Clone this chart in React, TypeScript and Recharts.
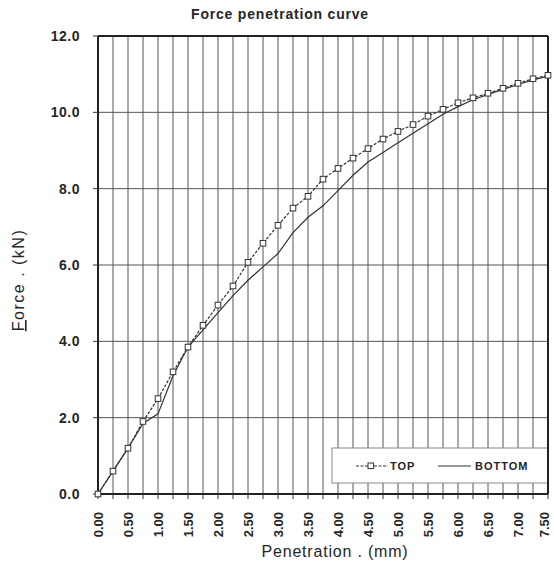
import React from 'react';
import { LineChart, Line, XAxis, YAxis, CartesianGrid, ReferenceLine, Customized } from 'recharts';

const penetration = [0, 0.25, 0.5, 0.75, 1.0, 1.25, 1.5, 1.75, 2.0, 2.25, 2.5, 2.75, 3.0, 3.25, 3.5, 3.75, 4.0, 4.25, 4.5, 4.75, 5.0, 5.25, 5.5, 5.75, 6.0, 6.25, 6.5, 6.75, 7.0, 7.25, 7.5];
const topForce = [0, 0.6, 1.2, 1.9, 2.5, 3.2, 3.85, 4.42, 4.95, 5.45, 6.07, 6.57, 7.04, 7.49, 7.8, 8.25, 8.53, 8.8, 9.05, 9.3, 9.5, 9.68, 9.9, 10.08, 10.25, 10.38, 10.5, 10.63, 10.76, 10.88, 10.97];
const bottomForce = [0, 0.6, 1.2, 1.85, 2.1, 3.1, 3.85, 4.3, 4.75, 5.2, 5.6, 5.95, 6.3, 6.85, 7.25, 7.55, 7.95, 8.35, 8.7, 8.95, 9.2, 9.45, 9.7, 9.95, 10.15, 10.33, 10.47, 10.6, 10.73, 10.85, 10.95];

const xTicks = [0, 0.25, 0.5, 0.75, 1.0, 1.25, 1.5, 1.75, 2.0, 2.25, 2.5, 2.75, 3.0, 3.25, 3.5, 3.75, 4.0, 4.25, 4.5, 4.75, 5.0, 5.25, 5.5, 5.75, 6.0, 6.25, 6.5, 6.75, 7.0, 7.25, 7.5];
const xLabeledTicks = ['0.00', '0.50', '1.00', '1.50', '2.00', '2.50', '3.00', '3.50', '4.00', '4.50', '5.00', '5.50', '6.00', '6.50', '7.00', '7.50'];
const yTicks = [0, 2, 4, 6, 8, 10, 12];

const titleText = 'Force penetration curve';
const xAxisTitle = 'Penetration . (mm)';
const yAxisTitleFirst = 'F';
const yAxisTitleRest = 'orce . (kN)';
const seriesNames = ['TOP', 'BOTTOM'];

const data = penetration.map((x, i) => ({ x, top: topForce[i], bottom: bottomForce[i] }));

const FONT = '"Liberation Sans", Arial, sans-serif';
const INK = '#262626';
const LINE = '#333333';

const XTick = (props: any) => {
  const { x, y, payload } = props;
  const label = payload.value.toFixed(2);
  if (!xLabeledTicks.includes(label)) return <g />;
  const isLast = label === xLabeledTicks[xLabeledTicks.length - 1];
  return (
    <g transform={`translate(${isLast ? x - 4 : x},${y})`}>
      <text
        transform="rotate(-90)"
        textAnchor="end"
        dy="0.36em"
        fontSize={13}
        fontWeight="bold"
        fontFamily={FONT}
        fill={INK}
      >
        {label}
      </text>
    </g>
  );
};

const SquareDot = (props: any) => {
  const { cx, cy, index } = props;
  if (cx == null || cy == null) return <g key={index} />;
  return (
    <rect key={index} x={cx - 2.8} y={cy - 2.8} width={5.6} height={5.6} fill="#fff" stroke={LINE} strokeWidth={1} />
  );
};

const Overlay = () => (
  <g>
    <text x={280} y={19} textAnchor="middle" fontSize={14} fontWeight="bold" fontFamily={FONT} fill={INK} letterSpacing={0.8}>
      {titleText}
    </text>
    <text x={335} y={557} textAnchor="middle" fontSize={16} fontFamily={FONT} fill={INK} letterSpacing={0.8}>
      {xAxisTitle}
    </text>
    <text
      transform="translate(24,280) rotate(-90)"
      textAnchor="middle"
      fontSize={16}
      fontFamily={FONT}
      fill={INK}
      letterSpacing={1.5}
    >
      <tspan textDecoration="underline">{yAxisTitleFirst}</tspan>
      <tspan>{yAxisTitleRest}</tspan>
    </text>
    <rect x={332} y={448} width={216} height={35} fill="#fff" stroke="#8a8a8a" strokeWidth={1} />
    <line x1={356} y1={466} x2={388} y2={466} stroke={LINE} strokeWidth={1.2} strokeDasharray="3 1.5" />
    <rect x={368} y={463} width={5.6} height={5.6} fill="#fff" stroke={LINE} strokeWidth={1} />
    <text x={390} y={470} fontSize={11} fontWeight="bold" fontFamily={FONT} fill={INK} letterSpacing={1}>
      {seriesNames[0]}
    </text>
    <line x1={438} y1={466} x2={471} y2={466} stroke={LINE} strokeWidth={1.2} />
    <text x={475} y={470} fontSize={11} fontWeight="bold" fontFamily={FONT} fill={INK} letterSpacing={1}>
      {seriesNames[1]}
    </text>
  </g>
);

export default function App() {
  return (
    <div style={{ position: 'absolute', left: 0, top: 0, background: '#fff' }}>
      <LineChart width={554} height={563} data={data} margin={{ top: 36, right: 6, bottom: 0, left: 0 }}>
        <CartesianGrid stroke="#555" strokeWidth={1} fill="#fff" />
        <XAxis
          type="number"
          dataKey="x"
          domain={[0, 7.5]}
          ticks={xTicks}
          interval={0}
          height={69}
          tickSize={5}
          tickMargin={13}
          tick={<XTick />}
          axisLine={{ stroke: '#222', strokeWidth: 2 }}
          tickLine={{ stroke: '#333' }}
        />
        <YAxis
          type="number"
          domain={[0, 12]}
          ticks={yTicks}
          interval={0}
          width={98}
          tickSize={5}
          tickMargin={13}
          tickFormatter={(v: number) => v.toFixed(1)}
          tick={{ fontSize: 14, fontWeight: 'bold', fill: INK, fontFamily: FONT, letterSpacing: 0.5 }}
          axisLine={{ stroke: '#222', strokeWidth: 2 }}
          tickLine={{ stroke: '#333' }}
        />
        <ReferenceLine y={12} stroke="#222" strokeWidth={2} />
        <ReferenceLine x={7.5} stroke="#222" strokeWidth={2} />
        <Line
          type="linear"
          dataKey="bottom"
          stroke={LINE}
          strokeWidth={1.2}
          dot={false}
          activeDot={false}
          isAnimationActive={false}
        />
        <Line
          type="linear"
          dataKey="top"
          stroke={LINE}
          strokeWidth={1.2}
          strokeDasharray="3 1.5"
          dot={<SquareDot />}
          activeDot={false}
          isAnimationActive={false}
        />
        <Customized component={Overlay} />
      </LineChart>
    </div>
  );
}
